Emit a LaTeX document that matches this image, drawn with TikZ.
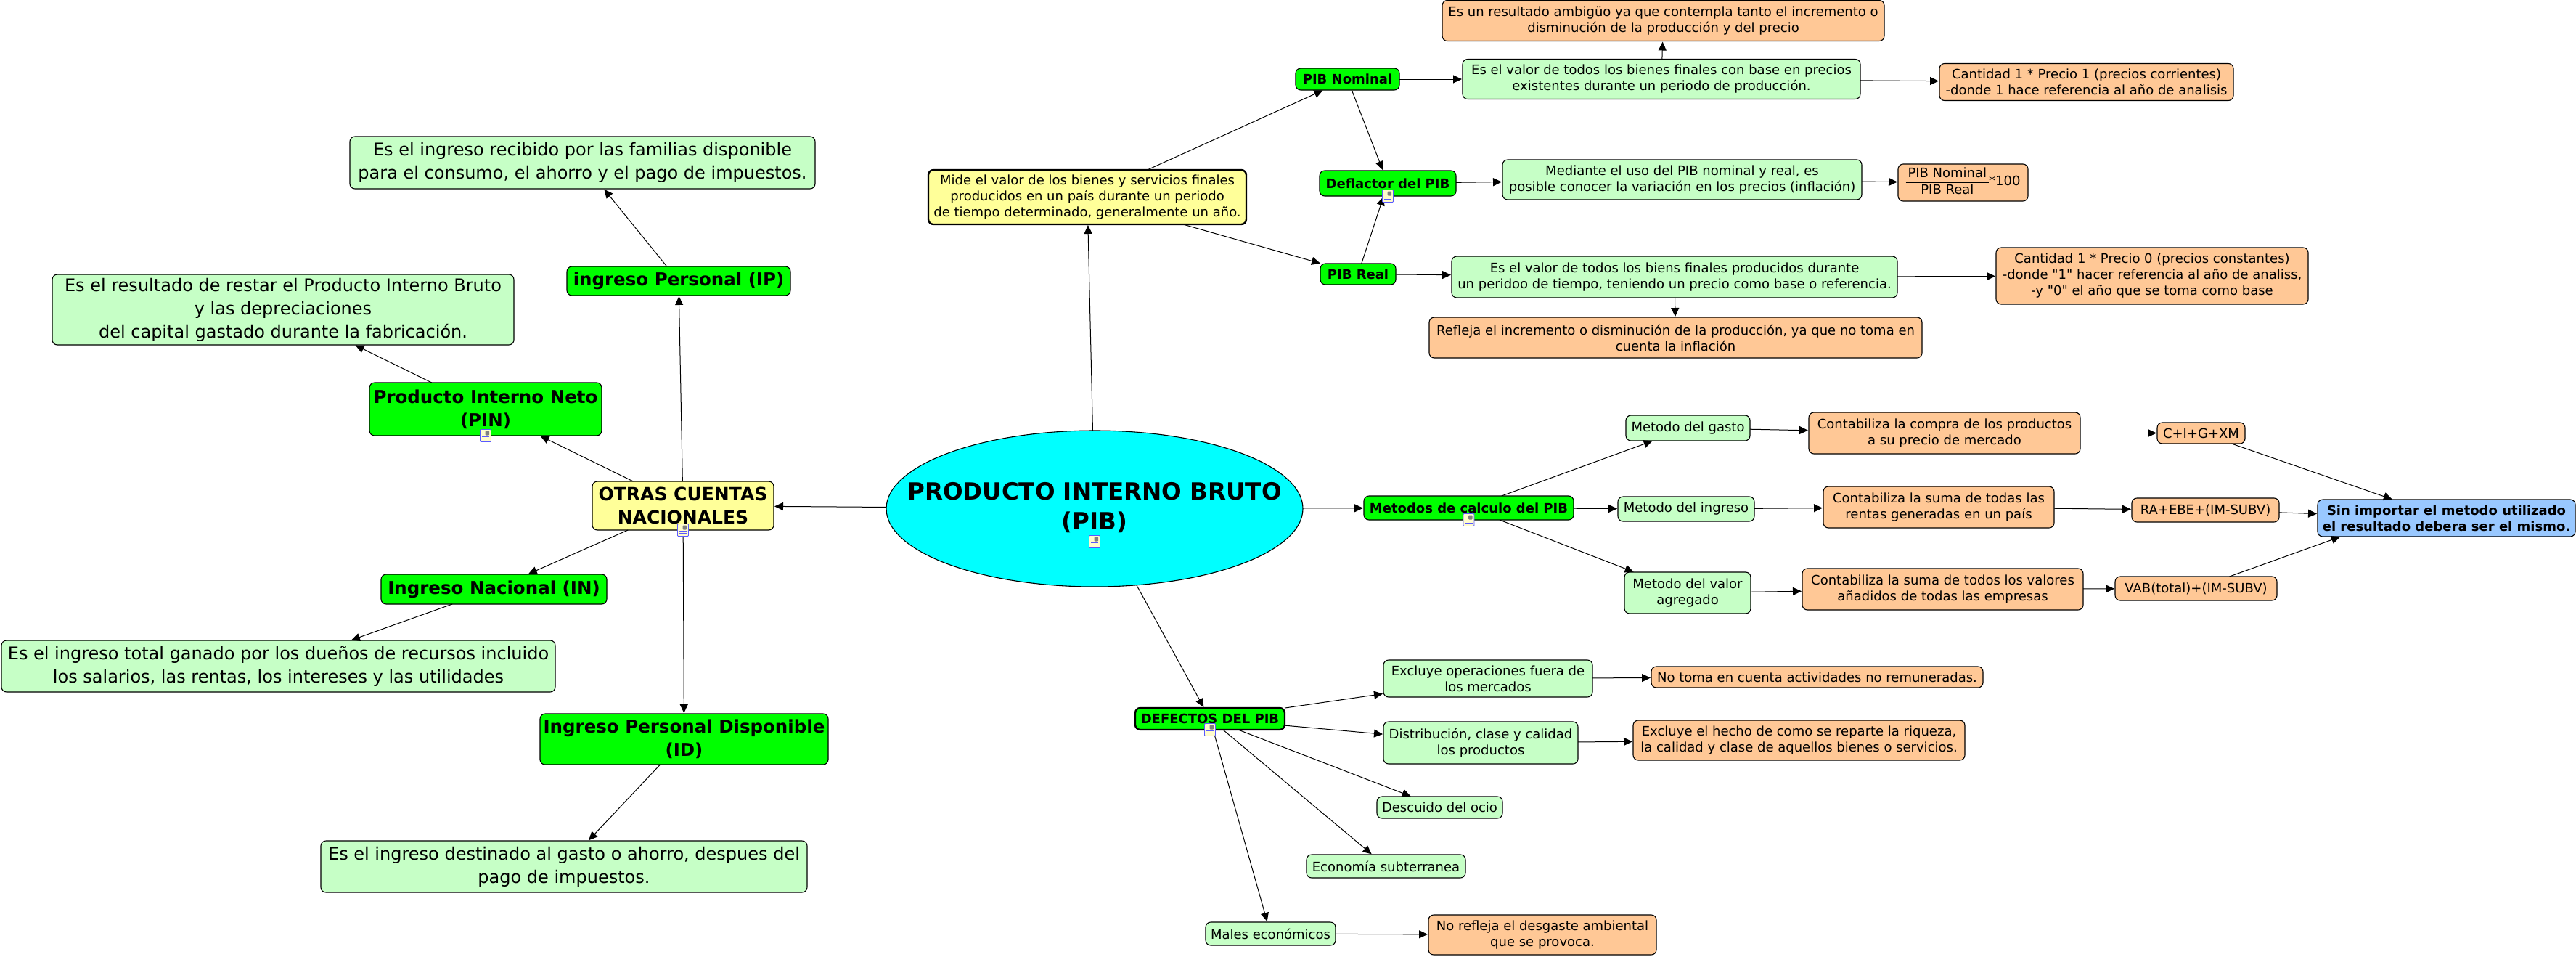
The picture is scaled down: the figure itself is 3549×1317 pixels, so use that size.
\documentclass[tikz,border=0pt]{standalone}
\usepackage{fontspec}
\setmainfont{DejaVu Sans}[Ligatures=TeXOff]
\usepackage{tikz}
\usetikzlibrary{arrows.meta,positioning,shapes.geometric}

\begin{document}
\begin{tikzpicture}[
base/.style={draw, rounded corners=7pt, align=center, inner sep=0pt, outer sep=0pt, line width=1.1pt, font=\fontsize{18}{22}\selectfont},
boxsize/.style 2 args={minimum width=#1pt, minimum height=#2pt},
claro/.style={base, fill=claroc},
naranja/.style={base, fill=naranjac},
verde/.style={base, fill=verdec, font=\fontsize{18}{22}\selectfont\bfseries},
verdeg/.style={base, fill=verdec, font=\fontsize{24.5}{32}\selectfont\bfseries},
claroG/.style={base, fill=claroc, font=\fontsize{24}{32}\selectfont},
docicon/.style={draw=blue!65!white, fill=yellow!20, rounded corners=1pt, line width=.9pt, minimum width=15pt, minimum height=17pt, inner sep=0pt,
  path picture={\draw[line width=.9pt] ([shift={(2.5pt,-10pt)}]path picture bounding box.north west) -- ++(10pt,0pt) ([shift={(2.5pt,-13pt)}]path picture bounding box.north west) -- ++(10pt,0pt);
  \fill[gray] ([shift={(7pt,-2pt)}]path picture bounding box.north west) rectangle ++(5.5pt,-6pt);}},
arr/.style={-{Triangle[length=12pt,width=11pt]}, line width=1pt, shorten >=1pt}
]
\definecolor{claroc}{HTML}{C6FFC6}
\definecolor{naranjac}{HTML}{FFC896}
\definecolor{amarilloc}{HTML}{FFFF99}
\definecolor{azulc}{HTML}{99C8FF}
\definecolor{verdec}{HTML}{00FF00}
\definecolor{cianc}{HTML}{00FFFF}
\useasboundingbox (0pt,0pt) rectangle (3549pt,-1317pt);
\node[ellipse, draw, fill=cianc, line width=1.1pt, inner xsep=-90pt, inner ysep=0pt, outer sep=0pt, align=center, boxsize={574}{215}, font=\fontsize{32.5}{41}\selectfont\bfseries] (pib) at (1508pt,-700.5pt) {PRODUCTO INTERNO BRUTO\\(PIB)\\[-33pt]\null};
\node[base, fill=amarilloc, line width=2.4pt, boxsize={438}{75}, above=284pt of pib, xshift=-10pt] (mide) {Mide el valor de los bienes y servicios finales\\producidos en un país durante un periodo\\de tiempo determinado, generalmente un año.};
\node[verde, boxsize={143}{30}, right=68pt of mide, yshift=162.5pt] (nominal) {PIB Nominal};
\node[verde, boxsize={188}{35}, right=101pt of mide, yshift=19pt] (deflactor) {Deflactor del PIB};
\node[verde, boxsize={104}{29}, right=102pt of mide, yshift=-106pt] (real) {PIB Real};
\node[claro, boxsize={548}{55}, right=87pt of nominal] (valor) {Es el valor de todos los bienes finales con base en precios\\existentes durante un periodo de producción.};
\node[naranja, boxsize={609}{56}, above=25pt of valor, xshift=2.5pt] (ambiguo) {Es un resultado ambigüo ya que contempla tanto el incremento o\\disminución de la producción y del precio};
\node[naranja, boxsize={405}{51}, right=109pt of valor, yshift=-4pt] (corrientes) {Cantidad 1 * Precio 1 (precios corrientes)\\-donde 1 hace referencia al año de analisis};
\node[claro, boxsize={495}{55}, right=64pt of deflactor, yshift=5pt] (mediante) {Mediante el uso del PIB nominal y real, es\\posible conocer la variación en los precios (inflación)};
\node[naranja, boxsize={179}{51}, right=50pt of mediante, yshift=-4pt] (formula) {\begin{tabular}{@{\hspace{3pt}}c@{\hspace{3pt}}}PIB Nominal\\\hline PIB Real\end{tabular}*100};
\node[claro, boxsize={614}{57}, right=77pt of real, yshift=-4pt] (bienes) {Es el valor de todos los biens finales producidos durante\\un peridoo de tiempo, teniendo un precio como base o referencia.};
\node[naranja, boxsize={430}{78}, right=136pt of bienes, yshift=1.5pt] (constantes) {Cantidad 1 * Precio 0 (precios constantes)\\-donde "1" hacer referencia al año de analiss,\\-y "0" el año que se toma como base};
\node[naranja, boxsize={679}{56}, below=27pt of bienes, xshift=1.5pt] (refleja) {Refleja el incremento o disminución de la producción, ya que no toma en\\cuenta la inflación};
\node[verde, boxsize={289}{33}, right=84pt of pib, yshift=1pt] (metodos) {Metodos de calculo del PIB};
\node[claro, boxsize={171}{35}, right=72pt of metodos, yshift=110pt] (gasto) {Metodo del gasto};
\node[claro, boxsize={188}{34}, right=61pt of metodos, yshift=-1.5pt] (ingreso) {Metodo del ingreso};
\node[claro, boxsize={174}{57}, right=70pt of metodos, yshift=-117pt] (agregado) {Metodo del valor\\agregado};
\node[naranja, boxsize={374}{57}, right=81pt of gasto, yshift=-7pt] (compra) {Contabiliza la compra de los productos\\a su precio de mercado};
\node[naranja, boxsize={318}{57}, right=95pt of ingreso, yshift=2.5pt] (rentas) {Contabiliza la suma de todas las\\rentas generadas en un país};
\node[naranja, boxsize={387}{57}, right=71pt of agregado, yshift=5pt] (anadidos) {Contabiliza la suma de todos los valores\\añadidos de todas las empresas};
\node[naranja, boxsize={121}{29}, right=106pt of compra] (cig) {C+I+G+XM};
\node[naranja, boxsize={203}{33}, right=107pt of rentas, yshift=-4pt] (ebe) {RA+EBE+(IM-SUBV)};
\node[naranja, boxsize={223}{33}, right=44pt of anadidos, yshift=1pt] (vab) {VAB(total)+(IM-SUBV)};
\node[base, fill=azulc, font=\fontsize{18}{22}\selectfont\bfseries, boxsize={355}{51}, right=53pt of ebe, yshift=-11pt] (mismo) {Sin importar el metodo utilizado\\el resultado debera ser el mismo.};
\node[verde, line width=2.4pt, boxsize={206}{30}, below=167pt of pib, xshift=159pt] (defectos) {DEFECTOS DEL PIB};
\node[claro, boxsize={288}{51}, right=136pt of defectos, yshift=55.5pt] (fuera) {Excluye operaciones fuera de\\los mercados};
\node[claro, boxsize={268}{58}, right=136pt of defectos, yshift=-33pt] (clase) {Distribución, clase y calidad\\los productos};
\node[claro, boxsize={173}{30}, right=127pt of defectos, yshift=-122pt] (ocio) {Descuido del ocio};
\node[claro, boxsize={219}{32}, right=30pt of defectos, yshift=-203pt] (subterranea) {Economía subterranea};
\node[claro, boxsize={179}{32}, below=265pt of defectos, xshift=83.5pt] (males) {Males económicos};
\node[naranja, boxsize={457}{29}, right=81pt of fuera, yshift=2pt] (remuneradas) {No toma en cuenta actividades no remuneradas.};
\node[naranja, boxsize={457}{55}, right=76pt of clase, yshift=3.5pt] (riqueza) {Excluye el hecho de como se reparte la riqueza,\\la calidad y clase de aquellos bienes o servicios.};
\node[naranja, boxsize={314}{55}, right=128pt of males, yshift=-1.5pt] (desgaste) {No refleja el desgaste ambiental\\que se provoca.};
\node[base, fill=amarilloc, font=\fontsize{25}{32}\selectfont\bfseries, boxsize={250}{67}, left=155pt of pib, yshift=4pt] (otras) {OTRAS CUENTAS\\NACIONALES};
\node[verdeg, boxsize={308}{40}, above=256pt of otras, xshift=-6pt] (personal) {ingreso Personal (IP)};
\node[claroG, boxsize={641}{72}, above=107pt of personal, xshift=-132.5pt] (recibido) {Es el ingreso recibido por las familias disponible\\para el consumo, el ahorro y el pago de impuestos.};
\node[verdeg, boxsize={320}{73}, above=63pt of otras, xshift=-272pt] (neto) {Producto Interno Neto\\(PIN)};
\node[claroG, boxsize={636}{97}, above=52pt of neto, xshift=-279pt] (restar) {Es el resultado de restar el Producto Interno Bruto\\y las depreciaciones\\del capital gastado durante la fabricación.};
\node[verdeg, boxsize={311}{41}, below=61pt of otras, xshift=-260.5pt] (nacional) {Ingreso Nacional (IN)};
\node[claroG, boxsize={763}{71}, below=50pt of nacional, xshift=-297pt] (total) {Es el ingreso total ganado por los dueños de recursos incluido\\los salarios, las rentas, los intereses y las utilidades};
\node[verdeg, boxsize={397}{70}, below=253pt of otras, xshift=1.5pt] (disponible) {Ingreso Personal Disponible\\(ID)};
\node[claroG, boxsize={670}{71}, below=105pt of disponible, xshift=-165.5pt] (destinado) {Es el ingreso destinado al gasto o ahorro, despues del\\pago de impuestos.};
\draw[arr] (pib) -- (mide); \draw[arr] (pib) -- (metodos); \draw[arr] (pib) -- (defectos); \draw[arr] (pib) -- (otras);
\draw[arr] (mide) -- (nominal); \draw[arr] (mide) -- (real);
\draw[arr] (nominal) -- (deflactor); \draw[arr] (real) -- (deflactor);
\draw[arr] (nominal) -- (valor); \draw[arr] (valor) -- (ambiguo); \draw[arr] (valor) -- (corrientes);
\draw[arr] (deflactor) -- (mediante); \draw[arr] (mediante) -- (formula);
\draw[arr] (real) -- (bienes); \draw[arr] (bienes) -- (constantes); \draw[arr] (bienes) -- (refleja);
\draw[arr] (metodos) -- (gasto); \draw[arr] (metodos) -- (ingreso); \draw[arr] (metodos) -- (agregado);
\draw[arr] (gasto) -- (compra); \draw[arr] (ingreso) -- (rentas); \draw[arr] (agregado) -- (anadidos);
\draw[arr] (compra) -- (cig); \draw[arr] (rentas) -- (ebe); \draw[arr] (anadidos) -- (vab);
\draw[arr] (cig) -- (mismo); \draw[arr] (ebe) -- (mismo); \draw[arr] (vab) -- ([xshift=32pt]mismo.south west);
\draw[arr] (defectos) -- (fuera); \draw[arr] (defectos) -- (clase); \draw[arr] (defectos) -- (ocio); \draw[arr] (defectos) -- (subterranea); \draw[arr] (defectos) -- (males);
\draw[arr] (fuera) -- (remuneradas); \draw[arr] (clase) -- (riqueza); \draw[arr] (males) -- (desgaste);
\draw[arr] (otras) -- (personal); \draw[arr] (personal) -- (recibido);
\draw[arr] (otras) -- (neto); \draw[arr] (neto) -- (restar);
\draw[arr] (otras) -- (nacional); \draw[arr] (nacional) -- (total);
\draw[arr] (otras) -- (disponible); \draw[arr] (disponible) -- (destinado);
\node[docicon, yshift=-45.5pt] (iconpib) at (pib.center) {};
\node[docicon] (iconmetodos) at (metodos.south) {};
\node[docicon] (icondeflactor) at (deflactor.south) {};
\node[docicon] (icondefectos) at (defectos.south) {};
\node[docicon] (iconotras) at (otras.south) {};
\node[docicon] (iconneto) at (neto.south) {};
\end{tikzpicture}
\end{document}
